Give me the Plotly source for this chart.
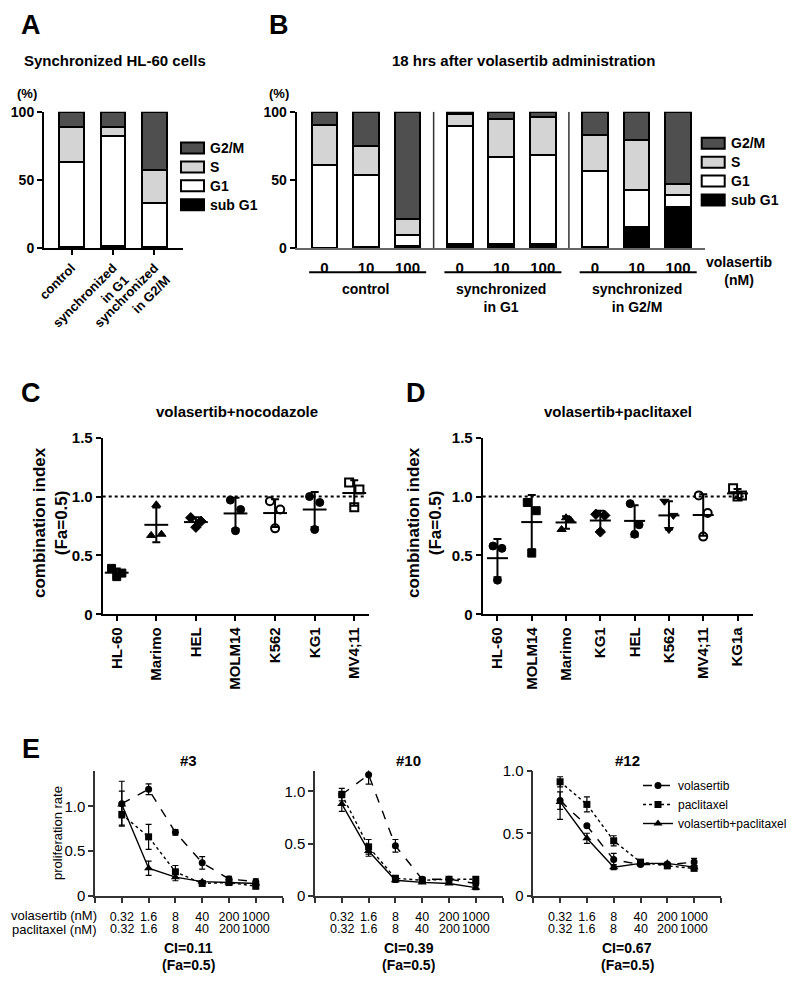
import numpy as np
import plotly.graph_objects as go

# page body has an 8 px margin, so the figure fills the window minus 16 px
OFF = 8
W, H = 784, 972
def px(v): return (v - OFF) / W
def py(v): return 1 - (v - OFF) / H

FONT = "Arial, Liberation Sans, Helvetica, sans-serif"

# ---------------- data ----------------
phases = ["sub G1", "G1", "S", "G2/M"]
phase_colors = ["#000000", "#ffffff", "#d4d4d4", "#4f4f4f"]

# Panel A (percent)
a_categories = ["control", "synchronized<br>in G1", "synchronized<br>in G2/M"]
a_subg1 = [1.0, 1.5, 1.0]
a_g1 = [62.0, 80.5, 32.4]
a_s = [25.5, 7.0, 23.9]
a_g2m = [11.5, 11.0, 42.7]

# Panel B (percent), 3 groups x 3 doses
b_groups = ["control", "synchronized<br>in G1", "synchronized<br>in G2/M"]
b_doses = ["0", "10", "100"]
b_subg1 = [0.5, 1.0, 1.5, 3.5, 3.0, 3.5, 1.0, 15.8, 30.5]
b_g1 = [60.5, 52.9, 8.3, 86.0, 64.0, 65.0, 55.8, 26.9, 8.3]
b_s = [29.0, 21.1, 11.7, 8.5, 27.6, 27.8, 26.2, 36.3, 8.0]
b_g2m = [10.0, 25.0, 78.5, 2.0, 5.4, 3.7, 17.0, 21.0, 53.2]

# Panel C: combination index volasertib+nocodazole
c_lines = ["HL-60", "Marimo", "HEL", "MOLM14", "K562", "KG1", "MV4;11"]
c_symbols = ["square", "triangle-up", "diamond", "circle", "circle-open", "circle", "square-open"]
c_values = [
    [0.39, 0.35, 0.32],
    [0.67, 0.68, 0.93],
    [0.82, 0.79, 0.74],
    [0.97, 0.89, 0.71],
    [0.96, 0.89, 0.73],
    [1.00, 0.95, 0.72],
    [1.12, 1.06, 0.91],
]

# Panel D: combination index volasertib+paclitaxel
d_lines = ["HL-60", "MOLM14", "Marimo", "KG1", "HEL", "K562", "MV4;11", "KG1a"]
d_symbols = ["circle", "square", "triangle-up", "diamond", "circle", "triangle-down", "circle-open", "square-open"]
d_values = [
    [0.58, 0.56, 0.29],
    [0.95, 0.88, 0.52],
    [0.72, 0.80, 0.82],
    [0.85, 0.84, 0.70],
    [0.94, 0.76, 0.68],
    [0.96, 0.84, 0.72],
    [1.01, 0.86, 0.66],
    [1.07, 1.01, 1.00],
]

# Panel E: proliferation rate
e_doses = ["0.32", "1.6", "8", "40", "200", "1000"]
e_titles = ["#3", "#10", "#12"]
e_ci = ["0.11", "0.39", "0.67"]
e_vol = [[1.03, 1.19, 0.71, 0.37, 0.19, 0.16],
         [0.97, 1.16, 0.48, 0.16, 0.16, 0.12],
         [0.76, 0.56, 0.29, 0.25, 0.25, 0.27]]
e_vol_sd = [[0.25, 0.06, 0.03, 0.07, 0.03, 0.03],
            [0.06, 0.09, 0.06, 0.02, 0.01, 0.02],
            [0.07, 0.01, 0.05, 0.01, 0.01, 0.03]]
e_pac = [[0.91, 0.66, 0.27, 0.14, 0.15, 0.11],
         [0.97, 0.47, 0.17, 0.15, 0.16, 0.16],
         [0.91, 0.73, 0.44, 0.27, 0.24, 0.22]]
e_pac_sd = [[0.12, 0.14, 0.07, 0.02, 0.02, 0.03],
            [0.03, 0.07, 0.02, 0.01, 0.01, 0.01],
            [0.04, 0.06, 0.04, 0.01, 0.01, 0.01]]
e_com = [[1.02, 0.31, 0.21, 0.16, 0.15, 0.14],
         [0.88, 0.43, 0.15, 0.13, 0.12, 0.08],
         [0.75, 0.46, 0.23, 0.26, 0.26, 0.23]]
e_com_sd = [[0.15, 0.08, 0.04, 0.01, 0.02, 0.02],
            [0.07, 0.05, 0.02, 0.01, 0.01, 0.02],
            [0.14, 0.04, 0.02, 0.01, 0.01, 0.01]]
e_ymax = [1.4, 1.2, 1.0]

# ---------------- figure ----------------
fig = go.Figure()

def boldfont(size=14, color="black"):
    return dict(family=FONT, size=size, color=color, weight="bold")

def regfont(size=14, color="black"):
    return dict(family=FONT, size=size, color=color)

# Panel A bars
a_x = list(range(len(a_categories)))
for name, vals, col in zip(phases, [a_subg1, a_g1, a_s, a_g2m], phase_colors):
    fig.add_trace(go.Bar(x=a_x, y=vals, width=0.6, name=name, showlegend=False,
                         marker=dict(color=col, line=dict(color="black", width=2)),
                         xaxis="x", yaxis="y"))

# Panel B bars
GROUP_STEP = 3.26
b_x = [g * GROUP_STEP + d for g in range(len(b_groups)) for d in range(len(b_doses))]
for name, vals, col in zip(phases, [b_subg1, b_g1, b_s, b_g2m], phase_colors):
    fig.add_trace(go.Bar(x=b_x, y=vals, width=0.62, name=name, showlegend=False,
                         marker=dict(color=col, line=dict(color="black", width=2)),
                         xaxis="x2", yaxis="y2"))

# Panels C and D scatter with mean +/- SD
jitter = [-0.13, 0.13, 0.0]
def add_ci_panel(lines, symbols, values, xa, ya, meanw):
    for i, (lab, sym, vals) in enumerate(zip(lines, symbols, values)):
        xs = [i + j for j in jitter[:len(vals)]]
        lw = 2 if sym.endswith("open") else 1
        fig.add_trace(go.Scatter(x=xs, y=vals, mode="markers", showlegend=False,
                                 marker=dict(symbol=sym, size=8, color="black",
                                             line=dict(color="black", width=lw)),
                                 xaxis=xa, yaxis=ya, cliponaxis=False))
        m = float(np.mean(vals)); sd = float(np.std(vals, ddof=1))
        fig.add_trace(go.Scatter(x=[i], y=[m], mode="markers", showlegend=False,
                                 marker=dict(symbol="line-ew", size=meanw,
                                             line=dict(color="black", width=2)),
                                 error_y=dict(type="data", array=[sd], visible=True,
                                              thickness=2, width=4, color="black"),
                                 xaxis=xa, yaxis=ya, cliponaxis=False))

add_ci_panel(c_lines, c_symbols, c_values, "x3", "y3", 17)
add_ci_panel(d_lines, d_symbols, d_values, "x4", "y4", 15)

# Panel E lines
e_x = list(range(1, len(e_doses) + 1))
series_names = ["volasertib", "paclitaxel", "volasertib+paclitaxel"]
series_sym = ["circle", "square", "triangle-up"]
series_dash = ["dash", "dot", "solid"]
series_size = [7, 7, 8]
for k in range(3):
    xa = "x%d" % (5 + k); ya = "y%d" % (5 + k)
    for s, (vals, sds) in enumerate([(e_vol[k], e_vol_sd[k]), (e_pac[k], e_pac_sd[k]), (e_com[k], e_com_sd[k])]):
        fig.add_trace(go.Scatter(x=e_x, y=vals, mode="lines+markers", name=series_names[s],
                                 showlegend=(k == 2), legend="legend",
                                 line=dict(color="black", width=1.4, dash=series_dash[s]),
                                 marker=dict(symbol=series_sym[s], size=series_size[s], color="black"),
                                 error_y=dict(type="data", array=sds, visible=True,
                                              thickness=1.2, width=3, color="black"),
                                 xaxis=xa, yaxis=ya, cliponaxis=False))

# ---------------- axes ----------------
def bold_axis(**kw):
    d = dict(showline=True, linecolor="black", linewidth=2, ticks="outside", ticklen=5,
             tickwidth=2, tickcolor="black", showgrid=False, zeroline=False,
             tickfont=boldfont(14), fixedrange=True, automargin=False)
    d.update(kw)
    return d

def thin_axis(**kw):
    d = dict(showline=True, linecolor="#333", linewidth=1.5, ticks="outside", ticklen=5,
             tickwidth=1.5, tickcolor="#333", showgrid=False, zeroline=False,
             tickfont=regfont(15), fixedrange=True, automargin=False)
    d.update(kw)
    return d

E_TICK_SIZE = 12.5

layout_axes = {}
# A
layout_axes["xaxis"] = bold_axis(domain=[px(44), px(183)], range=[-0.663, 2.687], anchor="y",
                                 tickvals=a_x, ticktext=a_categories, tickangle=-45,
                                 tickfont=boldfont(13))
layout_axes["yaxis"] = bold_axis(domain=[py(248.3), py(111.7)], range=[0, 100], anchor="x",
                                 tickvals=[0, 50, 100])
# B
layout_axes["xaxis2"] = bold_axis(domain=[px(296.7), px(705)], range=[-0.67, 9.17], anchor="y2",
                                  tickvals=b_x, ticktext=b_doses * len(b_groups), ticks="",
                                  linecolor="#666", tickfont=boldfont(15), ticklabelstandoff=5)
layout_axes["yaxis2"] = bold_axis(domain=[py(248.3), py(111.7)], range=[0, 100], anchor="x2",
                                  tickvals=[0, 50, 100])
# C
layout_axes["xaxis3"] = bold_axis(domain=[px(102.7), px(369.3)], range=[-0.354, 6.38], anchor="y3",
                                  tickvals=list(range(len(c_lines))), ticktext=c_lines,
                                  tickangle=-90, tickfont=boldfont(15))
layout_axes["yaxis3"] = bold_axis(domain=[py(614.3), py(437.7)], range=[0, 1.5], anchor="x3",
                                  tickvals=[0, 0.5, 1.0, 1.5], ticktext=["0", "0.5", "1.0", "1.5"],
                                  tickfont=boldfont(15))
# D
layout_axes["xaxis4"] = bold_axis(domain=[px(482.7), px(753.3)], range=[-0.43, 7.46], anchor="y4",
                                  tickvals=list(range(len(d_lines))), ticktext=d_lines,
                                  tickangle=-90, tickfont=boldfont(15))
layout_axes["yaxis4"] = bold_axis(domain=[py(614.3), py(437.7)], range=[0, 1.5], anchor="x4",
                                  tickvals=[0, 0.5, 1.0, 1.5], ticktext=["0", "0.5", "1.0", "1.5"],
                                  tickfont=boldfont(15))
# E
e_left = [95.0, 315.0, 533.3]
e_width = 187.6
for k in range(3):
    layout_axes["xaxis%d" % (5 + k)] = thin_axis(domain=[px(e_left[k]), px(e_left[k] + e_width)],
                                                 range=[0, 7], anchor="y%d" % (5 + k),
                                                 tickvals=list(range(0, 8)),
                                                 ticktext=[""] + e_doses + [""],
                                                 tickangle=0, tickfont=regfont(E_TICK_SIZE),
                                                 ticklabelstandoff=3)
    layout_axes["yaxis%d" % (5 + k)] = thin_axis(domain=[py(896), py(770.5)], range=[0, e_ymax[k]],
                                                 anchor="x%d" % (5 + k),
                                                 tickvals=[0, 0.5, 1.0], ticktext=["0", "0.5", "1.0"])

# ---------------- annotations ----------------
ann = []
def A(text, x, y, font, xanchor="center", yanchor="middle", angle=0, xref="paper", yref="paper"):
    ann.append(dict(text=text, x=x, y=y, xref=xref, yref=yref, showarrow=False,
                    xanchor=xanchor, yanchor=yanchor, textangle=angle, font=font))

for letter, x, y in [("A", 19, 25), ("B", 267, 25), ("C", 19, 393), ("D", 404, 393), ("E", 20, 749)]:
    A(letter, px(x), py(y), boldfont(27), xanchor="left")

A("Synchronized HL-60 cells", px(22), py(61), boldfont(15), xanchor="left")
A("18 hrs after volasertib administration", px(523), py(61), boldfont(15))
A("(%)", px(27), py(93), boldfont(13))
A("(%)", px(279), py(93), boldfont(13))

shapes = []
# cell-cycle phase keys for A and B (drawn from the phase lists)
for key_left, key_top in [(181, 148), (701.7, 143.3)]:
    for r, (name, col) in enumerate(zip(phases[::-1], phase_colors[::-1])):
        yc = key_top + r * 18.9
        shapes.append(dict(type="rect", xref="paper", yref="paper",
                           x0=px(key_left), x1=px(key_left + 23), y0=py(yc + 5.5), y1=py(yc - 5.5),
                           fillcolor=col, line=dict(color="black", width=2)))
        A(name, px(key_left + 27), py(yc), boldfont(14), xanchor="left")

# B group labels and underlines
for g, lab in enumerate(b_groups):
    g0 = g * GROUP_STEP
    A(lab, g0 + 1, py(279), boldfont(14), yanchor="top", xref="x2")
    shapes.append(dict(type="line", xref="x2", yref="paper", x0=g0 - 0.37, x1=g0 + 2.45,
                       y0=py(272.3), y1=py(272.3), line=dict(color="black", width=2)))
    if g > 0:
        xs = g0 - (GROUP_STEP - 2) / 2
        shapes.append(dict(type="line", xref="x2", yref="y2", x0=xs, x1=xs, y0=0, y1=100,
                           line=dict(color="#333", width=1.5)))
A("volasertib<br>(nM)", px(739), py(252), boldfont(14), yanchor="top")

# C / D titles
A("volasertib+nocodazole", px(236.7), py(411.7), boldfont(15))
A("volasertib+paclitaxel", px(618), py(411.7), boldfont(15))
A("combination index<br>(Fa=0.5)", px(50), py(523), boldfont(17), angle=-90)
A("combination index<br>(Fa=0.5)", px(424), py(523), boldfont(17), angle=-90)
shapes.append(dict(type="line", xref="x3 domain", yref="y3", x0=0, x1=0.99, y0=1, y1=1,
                   line=dict(color="black", width=2, dash="dot")))
shapes.append(dict(type="line", xref="x4 domain", yref="y4", x0=0, x1=0.976, y0=1, y1=1,
                   line=dict(color="black", width=2, dash="dot")))

# E texts
for k in range(3):
    cx = px(e_left[k] + e_width / 2)
    A(e_titles[k], cx, py(760), boldfont(15))
    A("CI=" + e_ci[k], cx, py(948), boldfont(14))
    A("(Fa=0.5)", cx, py(965), boldfont(14))
    for i, d in enumerate(e_doses):
        A(d, e_x[i], py(929), regfont(E_TICK_SIZE), xref="x%d" % (5 + k))
A("proliferation rate", px(57), py(833), regfont(13), angle=-90)
A("volasertib (nM)", px(99), py(915), regfont(13), xanchor="right")
A("paclitaxel (nM)", px(99), py(929), regfont(13), xanchor="right")

fig.update_layout(
    width=W, height=H, margin=dict(l=0, r=0, t=0, b=0, autoexpand=False),
    paper_bgcolor="white", plot_bgcolor="white",
    barmode="stack", font=dict(family=FONT, color="black"),
    annotations=ann, shapes=shapes, showlegend=True,
    legend=dict(x=px(638), y=py(771), xanchor="left", yanchor="top", traceorder="normal",
                font=regfont(12), bgcolor="rgba(0,0,0,0)", tracegroupgap=0, itemwidth=30),
    **layout_axes,
)

fig.write_html("out.html")
